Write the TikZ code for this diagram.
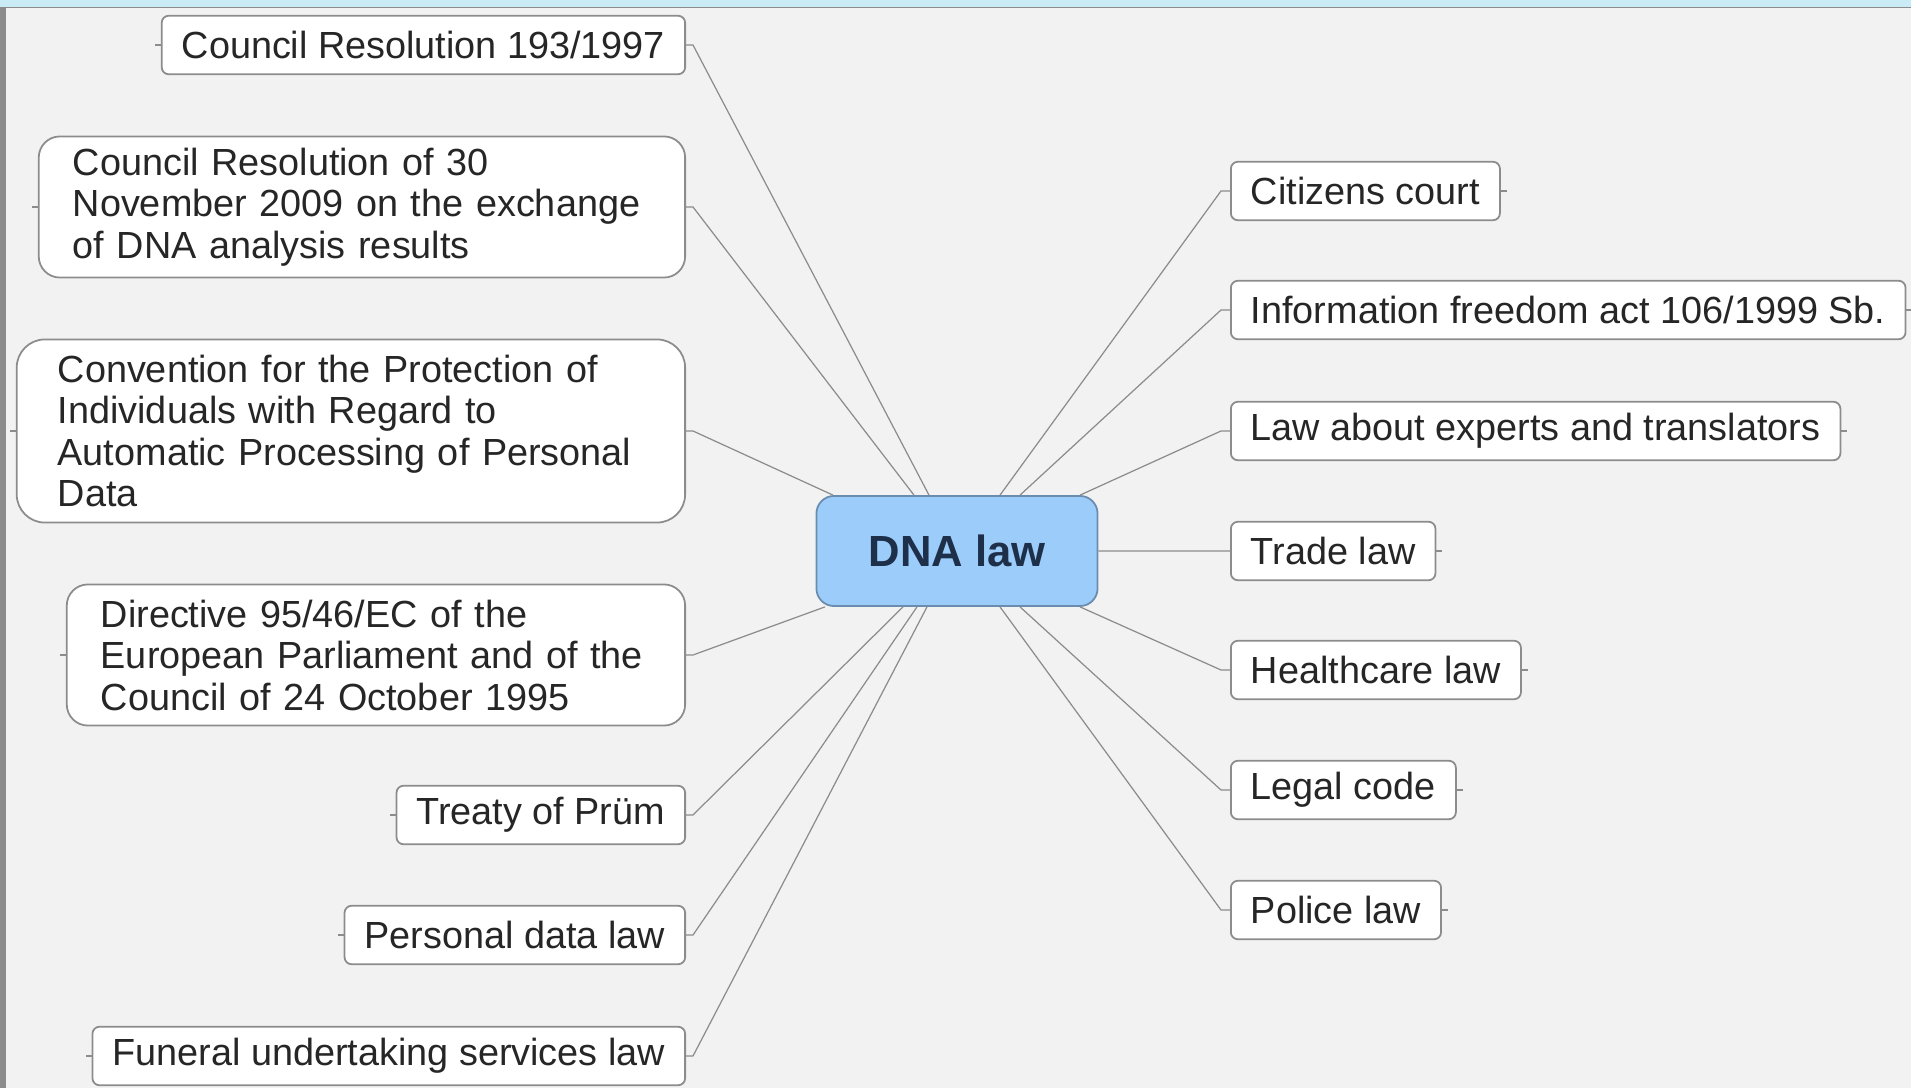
\documentclass[tikz,border=0pt]{standalone}
\usepackage{fontspec}
\setmainfont{Liberation Sans}
\definecolor{paper}{HTML}{F2F2F2}
\definecolor{band}{HTML}{C9EBF6}
\definecolor{linegray}{HTML}{8C8C8C}
\definecolor{hubfill}{HTML}{9CCCFA}
\definecolor{hubdraw}{HTML}{6A8CAE}
\definecolor{hubtext}{HTML}{1E2F4A}

\begin{document}
\begin{tikzpicture}[x=0.01cm,y=-0.01cm,
  leaf/.style={draw=linegray,fill=white,line width=0.5pt,rounded corners=2pt,
    inner xsep=0.2cm,inner ysep=0pt,minimum height=0.585cm,text=black!85,
    font=\fontsize{10.75}{11.8}\selectfont},
  longleaf/.style={leaf,rounded corners=6pt,inner xsep=0.34cm,align=left},
  hub/.style={draw=hubdraw,fill=hubfill,line width=0.5pt,rounded corners=5pt,
    minimum width=2.81cm,minimum height=1.10cm,text=hubtext,
    font=\fontsize{12.4}{14}\selectfont\bfseries},
  link/.style={draw=linegray,line width=0.35pt}]
\useasboundingbox (0,0) rectangle (1911,1088);
\fill[paper] (0,0) rectangle (1911,1088);
\fill[band] (0,0) rectangle (1911,7);
\draw[linegray,line width=0.3pt] (0,7.5) -- (1911,7.5);
\draw[linegray,line width=0.06cm] (2.5,7) -- (2.5,1088);

\node[hub] (dna) at (957,551) {DNA law};
%left side
\node[leaf,anchor=east] (cr97) at (686,45) {Council Resolution 193/1997};
\node[longleaf,anchor=east,text width=5.78cm,minimum height=1.41cm] (cr09) at (686,207)
  {Council Resolution of 30\\November 2009 on the exchange\\of DNA analysis results};
\node[longleaf,anchor=east,inner xsep=0.41cm,text width=5.86cm,minimum height=1.83cm,rounded corners=8pt] (conv) at (686,431)
  {Convention for the Protection of\\Individuals with Regard to\\Automatic Processing of Personal\\Data};
\node[longleaf,anchor=east,text width=5.50cm,minimum height=1.41cm] (dir) at (686,655)
  {Directive 95/46/EC of the\\European Parliament and of the\\Council of 24 October 1995};
\node[leaf,anchor=east] (prum) at (686,815) {Treaty of Prüm};
\node[leaf,anchor=east] (pdl) at (686,935) {Personal data law};
\node[leaf,anchor=east] (fun) at (686,1056) {Funeral undertaking services law};
%right side
\node[leaf,anchor=west] (citz) at (1230,191) {Citizens court};
\node[leaf,anchor=west] (info) at (1230,310) {Information freedom act 106/1999 Sb.};
\node[leaf,anchor=west] (expt) at (1230,431) {Law about experts and translators};
\node[leaf,anchor=west] (trade) at (1230,551) {Trade law};
\node[leaf,anchor=west] (health) at (1230,670) {Healthcare law};
\node[leaf,anchor=west] (legal) at (1230,790) {Legal code};
\node[leaf,anchor=west] (police) at (1230,910) {Police law};

\draw[link]
(cr97.east)--++(7,0)--([xshift=-0.28cm]dna.north)
(cr09.east)--++(7,0)--([xshift=-0.43cm]dna.north)
(conv.east)--++(7,0)--([xshift=-1.24cm]dna.north)
(dir.east)--++(7,0)--([xshift=-1.32cm]dna.south)
(prum.east)--++(7,0)--([xshift=-0.54cm]dna.south)
(pdl.east)--++(7,0)--([xshift=-0.40cm]dna.south)
(fun.east)--++(7,0)--([xshift=-0.30cm]dna.south);
\draw[link]
([xshift=0.43cm]dna.north)--([xshift=-0.09cm]citz.west)--(citz.west)
([xshift=0.63cm]dna.north)--([xshift=-0.09cm]info.west)--(info.west)
([xshift=1.23cm]dna.north)--([xshift=-0.09cm]expt.west)--(expt.west)
(dna.east)--(trade.west)
([xshift=1.23cm]dna.south)--([xshift=-0.09cm]health.west)--(health.west)
([xshift=0.63cm]dna.south)--([xshift=-0.09cm]legal.west)--(legal.west)
([xshift=0.43cm]dna.south)--([xshift=-0.09cm]police.west)--(police.west);
%small stubs
\foreach \n in {cr97,cr09,conv,dir,prum,pdl,fun}
  \draw[link] (\n.west)--++(-6,0);
\foreach \n in {citz,info,expt,trade,health,legal,police}
  \draw[link] (\n.east)--++(6,0);
\end{tikzpicture}
\end{document}
